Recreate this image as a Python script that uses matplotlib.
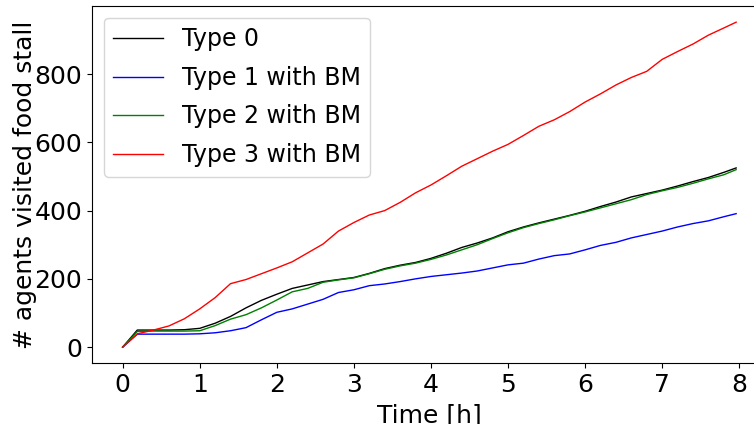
import matplotlib
matplotlib.use("Agg")
import matplotlib.pyplot as plt

# time axis [h], shared by all series
time_h = [0, 0.19, 0.4, 0.6, 0.8, 1.0, 1.2, 1.4, 1.6, 1.8, 2.0, 2.2, 2.4, 2.6, 2.8,
          3.0, 3.2, 3.4, 3.6, 3.8, 4.0, 4.2, 4.4, 4.6, 4.8, 5.0, 5.2, 5.4, 5.6, 5.8,
          6.0, 6.2, 6.4, 6.6, 6.8, 7.0, 7.2, 7.4, 7.6, 7.8, 7.96]

type0 = [0, 50, 50, 50, 51, 55, 70, 90, 115, 137, 155, 172, 182, 192, 198,
         204, 216, 230, 240, 248, 260, 275, 292, 305, 320, 338, 352, 364, 375, 386,
         398, 412, 425, 440, 450, 460, 472, 485, 497, 512, 525]

type1_bm = [0, 38, 38, 38, 38, 39, 42, 48, 57, 80, 102, 112, 126, 140, 160,
            168, 180, 185, 192, 200, 207, 212, 217, 223, 232, 241, 246, 258, 268, 273,
            285, 298, 307, 320, 330, 340, 352, 362, 370, 382, 391]

type2_bm = [0, 46, 47, 47, 47, 48, 63, 82, 95, 115, 138, 162, 172, 190, 197,
            203, 215, 228, 238, 246, 257, 270, 285, 300, 318, 335, 350, 362, 373, 385,
            396, 408, 420, 432, 447, 458, 468, 480, 493, 505, 520]

type3_bm = [0, 39, 50, 62, 83, 112, 145, 186, 198, 215, 232, 250, 276, 302, 340,
            365, 387, 400, 424, 452, 475, 502, 530, 552, 574, 594, 620, 647, 666, 690,
            718, 742, 768, 790, 808, 843, 866, 888, 914, 935, 952]

fs = 18

fig = plt.figure(figsize=(7.54, 4.24), dpi=100)
ax = fig.add_axes([0.122, 0.143, 0.895, 0.843])

ax.plot(time_h, type0, 'k-', lw=1, label="Type 0")
ax.plot(time_h, type1_bm, 'b-', lw=1, label="Type 1 with BM")
ax.plot(time_h, type2_bm, 'g-', lw=1, label="Type 2 with BM")
ax.plot(time_h, type3_bm, 'r-', lw=1, label="Type 3 with BM")

ax.set_xlabel("Time [h]", fontsize=fs)
ax.set_ylabel("# agents visited food stall", fontsize=fs, labelpad=-2)
ax.tick_params(labelsize=fs)
ax.set_xticks(range(0, 9))
ax.legend(loc="upper left", fontsize=17, labelspacing=0.62, handlelength=2.1)

fig.savefig("out.png", dpi=100)
